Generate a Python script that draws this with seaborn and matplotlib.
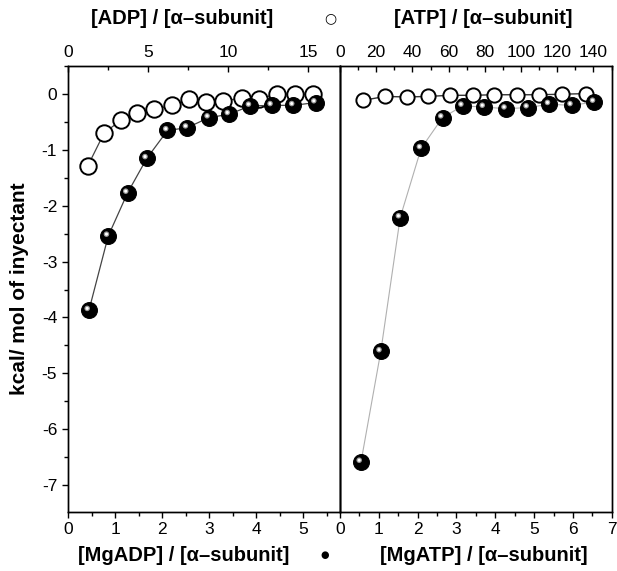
import numpy as np
import pandas as pd
import seaborn as sns
import matplotlib.pyplot as plt
from matplotlib.ticker import MultipleLocator
from matplotlib.transforms import offset_copy

# values
adp_ratio = [1.21, 2.25, 3.29, 4.31, 5.38, 6.46, 7.56, 8.61, 9.69, 10.84, 11.94, 13.06, 14.17, 15.31]
adp_heat = [-1.29, -0.69, -0.47, -0.33, -0.27, -0.20, -0.09, -0.14, -0.12, -0.07, -0.09, 0.01, 0.0, 0.0]
mgadp_ratio = [0.44, 0.85, 1.26, 1.67, 2.11, 2.53, 2.99, 3.42, 3.87, 4.33, 4.79, 5.26]
mgadp_heat = [-3.87, -2.54, -1.77, -1.15, -0.65, -0.60, -0.42, -0.36, -0.21, -0.20, -0.20, -0.15]

atp_ratio = [12.9, 24.9, 36.9, 48.5, 60.8, 73.3, 85.3, 98.0, 110.1, 122.8, 135.7]
atp_heat = [-0.11, -0.04, -0.05, -0.04, -0.02, -0.02, -0.01, -0.01, -0.01, 0.0, 0.01]
mgatp_ratio = [0.54, 1.05, 1.55, 2.09, 2.64, 3.16, 3.71, 4.27, 4.84, 5.39, 5.97, 6.55]
mgatp_heat = [-6.59, -4.61, -2.21, -0.97, -0.42, -0.21, -0.23, -0.26, -0.24, -0.18, -0.20, -0.14]

sns.set_style("ticks")
plt.rcParams['font.family'] = ['Liberation Sans', 'DejaVu Sans']
plt.rcParams['axes.linewidth'] = 1.0
plt.rcParams['axes.unicode_minus'] = False
plt.rcParams['text.color'] = 'black'
plt.rcParams['axes.labelcolor'] = 'black'
plt.rcParams['xtick.color'] = 'black'
plt.rcParams['ytick.color'] = 'black'

fig = plt.figure(figsize=(6.17, 5.71), dpi=100)
w = 0.4404
axL = fig.add_axes([0.1107, 0.1039, w, 0.781])
axR = fig.add_axes([0.1107 + w, 0.1039, w, 0.781])


def spheres(ax, x, y, line_color, lw):
    df = pd.DataFrame({'x': x, 'y': y})
    sns.lineplot(data=df, x='x', y='y', ax=ax, color=line_color, lw=lw, sort=False, zorder=2)
    sns.scatterplot(data=df, x='x', y='y', ax=ax, s=130, color='black', edgecolor='black',
                    linewidth=0.8, zorder=3)
    # little highlight so the dots look like shaded balls
    shift = offset_copy(ax.transData, fig=fig, x=-1.8, y=1.8, units='dots')
    sns.scatterplot(data=df, x='x', y='y', ax=ax, s=16, color='#9a9a9a', edgecolor='none',
                    transform=shift, zorder=4)
    sns.scatterplot(data=df, x='x', y='y', ax=ax, s=5, color='white', edgecolor='none',
                    transform=shift, zorder=5)


def rings(ax, x, y, line_color, lw, size):
    df = pd.DataFrame({'x': x, 'y': y})
    sns.lineplot(data=df, x='x', y='y', ax=ax, color=line_color, lw=lw, sort=False, zorder=2)
    sns.scatterplot(data=df, x='x', y='y', ax=ax, s=size, facecolor='white', edgecolor='black',
                    linewidth=1.4, zorder=3)


axL_top = axL.twiny()
axR_top = axR.twiny()
for base, top in [(axL, axL_top), (axR, axR_top)]:
    base.set_zorder(2)
    top.set_zorder(1)
    base.patch.set_visible(False)
    top.patch.set_facecolor('white')

rings(axL_top, adp_ratio, adp_heat, '#444444', 0.9, 140)
spheres(axL, mgadp_ratio, mgadp_heat, '#444444', 0.9)
rings(axR_top, atp_ratio, atp_heat, '#333333', 1.0, 105)
spheres(axR, mgatp_ratio, mgatp_heat, '#b0b0b0', 0.8)

ylim = (-7.48, 0.51)
for ax in (axL, axR, axL_top, axR_top):
    ax.set_ylim(*ylim)
    ax.set_xlabel('')
    ax.set_ylabel('')
    for s in ax.spines.values():
        s.set_visible(True)
        s.set_color('black')
        s.set_linewidth(1.0)

axL.set_xlim(0, 5.78)
axL_top.set_xlim(0, 17.0)
axR.set_xlim(0, 7)
axR_top.set_xlim(0, 150.1)

axL.xaxis.set_major_locator(MultipleLocator(1))
axL.xaxis.set_minor_locator(MultipleLocator(0.5))
axR.xaxis.set_major_locator(MultipleLocator(1))
axR.xaxis.set_minor_locator(MultipleLocator(0.5))
axL_top.xaxis.set_major_locator(MultipleLocator(5))
axL_top.xaxis.set_minor_locator(MultipleLocator(2.5))
axR_top.xaxis.set_major_locator(MultipleLocator(20))
axR_top.xaxis.set_minor_locator(MultipleLocator(10))
axL.yaxis.set_major_locator(MultipleLocator(1))
axL.yaxis.set_minor_locator(MultipleLocator(0.5))

for ax in (axL, axR):
    ax.tick_params(axis='x', which='major', direction='out', length=4.5, width=1.0,
                   labelsize=12.5, pad=3)
    ax.tick_params(axis='x', which='minor', direction='out', length=3, width=1.0)
for ax in (axL_top, axR_top):
    ax.tick_params(axis='x', which='major', direction='in', length=4.5, width=1.0,
                   labelsize=12.5, pad=4)
    ax.tick_params(axis='x', which='minor', direction='in', length=3, width=1.0)
    ax.tick_params(axis='y', which='both', left=False, right=False,
                   labelleft=False, labelright=False)

axL.tick_params(axis='y', which='major', direction='out', length=4.5, width=1.0, labelsize=12.5)
axL.tick_params(axis='y', which='minor', direction='out', length=3, width=1.0)
axR.tick_params(axis='y', which='both', left=False, labelleft=False)

axL.set_ylabel('kcal/ mol of inyectant', fontsize=15, fontweight='bold')
axL.yaxis.set_label_coords(-0.145, 0.5)

fs = 14.5
fig.text(0.295, 0.968, '[ADP] / [α–subunit]', ha='center', va='center', fontsize=fs, fontweight='bold')
fig.text(0.535, 0.968, '○', ha='center', va='center', fontsize=10, family=['DejaVu Sans'])
fig.text(0.784, 0.968, '[ATP] / [α–subunit]', ha='center', va='center', fontsize=fs, fontweight='bold')
fig.text(0.297, 0.028, '[MgADP] / [α–subunit]', ha='center', va='center', fontsize=fs, fontweight='bold')
fig.text(0.527, 0.028, '●', ha='center', va='center', fontsize=7, family=['DejaVu Sans'])
fig.text(0.784, 0.028, '[MgATP] / [α–subunit]', ha='center', va='center', fontsize=fs, fontweight='bold')

fig.savefig('out.png', dpi=100, facecolor='white')
